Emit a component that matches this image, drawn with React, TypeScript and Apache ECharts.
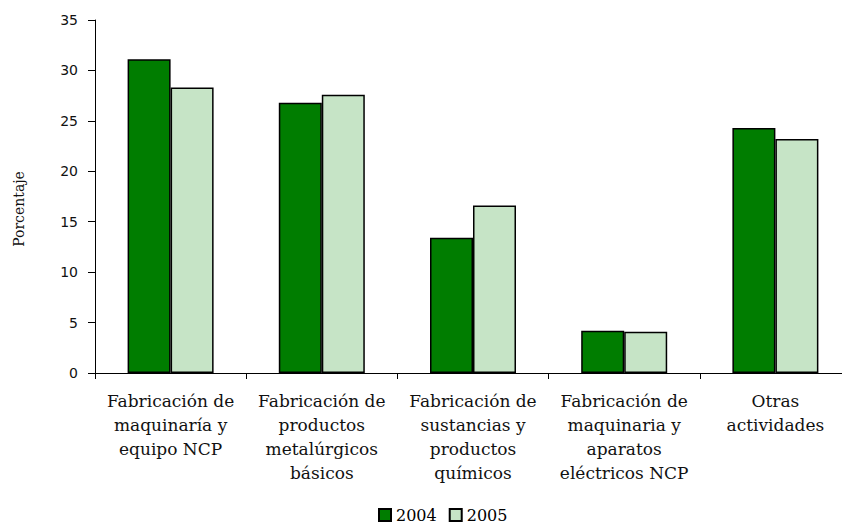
import React, { useEffect, useRef } from "react";
import * as echarts from "echarts";

const categories = [
  "Fabricación de\nmaquinaría y\nequipo NCP",
  "Fabricación de\nproductos\nmetalúrgicos\nbásicos",
  "Fabricación de\nsustancias y\nproductos\nquímicos",
  "Fabricación de\nmaquinaria y\naparatos\neléctricos NCP",
  "Otras\nactividades",
];
const series2004 = [31.1, 26.8, 13.4, 4.2, 24.3];
const series2005 = [28.3, 27.6, 16.6, 4.1, 23.2];
const yTicks = { min: 0, max: 35, interval: 5 };
const yAxisTitle = "Porcentaje";

export default function App() {
  const ref = useRef<HTMLDivElement>(null);
  useEffect(() => {
    if (!ref.current) return;
    const chart = echarts.init(ref.current, undefined, { renderer: "svg" });
    const serif = "DejaVu Serif";
    chart.setOption({
      animation: false,
      backgroundColor: "#ffffff",
      grid: { left: 95, right: 9, top: 20, height: 353, containLabel: false },
      legend: {
        data: ["2004", "2005"],
        top: 507,
        left: 378,
        padding: 0,
        icon: "rect",
        itemWidth: 12,
        itemHeight: 12,
        itemGap: 12,
        textStyle: { fontFamily: serif, fontSize: 16, lineHeight: 16, color: "#000" },
      },
      graphic: [
        {
          type: "text",
          x: 19,
          y: 209,
          rotation: Math.PI / 2,
          style: {
            text: yAxisTitle,
            fontFamily: serif,
            fontSize: 14,
            fill: "#111",
            align: "center",
            verticalAlign: "middle",
          },
        },
      ],
      xAxis: {
        type: "category",
        data: categories,
        axisLine: { show: true, lineStyle: { color: "#000", width: 1 } },
        axisTick: { show: true, length: 6, alignWithLabel: false, interval: 0, lineStyle: { color: "#000" } },
        axisLabel: {
          interval: 0,
          margin: 16,
          lineHeight: 24,
          fontFamily: serif,
          fontSize: 17,
          color: "#111",
        },
        splitLine: { show: false },
      },
      yAxis: {
        type: "value",
        min: yTicks.min,
        max: yTicks.max,
        interval: yTicks.interval,
        axisLine: { show: true, lineStyle: { color: "#000", width: 1 } },
        axisTick: { show: true, length: 7, lineStyle: { color: "#000" } },
        axisLabel: { margin: 17, fontFamily: "DejaVu Sans", fontSize: 14, color: "#111" },
        splitLine: { show: false },
      },
      series: [
        {
          name: "2004",
          type: "bar",
          data: series2004,
          barWidth: 43,
          barGap: "0%",
          itemStyle: { color: "#007d00", borderColor: "#000", borderWidth: 1.5 },
        },
        {
          name: "2005",
          type: "bar",
          data: series2005,
          barWidth: 43,
          barGap: "0%",
          itemStyle: { color: "#c6e4c6", borderColor: "#000", borderWidth: 1.5 },
        },
      ],
    });
    return () => chart.dispose();
  }, []);
  return (
    <div
      ref={ref}
      style={{ position: "fixed", left: 0, top: 0, width: 860, height: 524 }}
    />
  );
}
